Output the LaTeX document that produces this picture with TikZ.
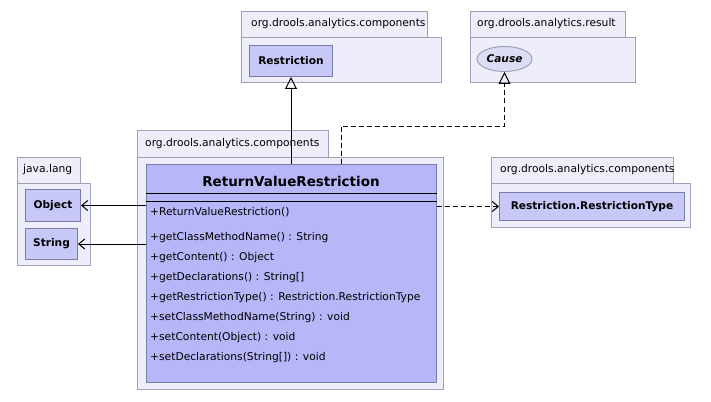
\documentclass[tikz,border=0pt]{standalone}
\usepackage{fontspec}
\setmainfont{DejaVu Sans}
\usetikzlibrary{arrows.meta,shapes.geometric}
\definecolor{pkgfill}{HTML}{EEEEFA}
\definecolor{pkgline}{HTML}{A0A0B8}
\definecolor{clsfill}{HTML}{B6B6F8}
\definecolor{clsline}{HTML}{7C7CA8}
\definecolor{smallfill}{HTML}{C8C8F8}
\definecolor{causefill}{HTML}{DCDCF4}
\tikzset{
  pkgbox/.style={draw=pkgline, fill=pkgfill, line width=1pt, rectangle, anchor=north west, inner sep=0pt},
  pkglabel/.style={anchor=west, font=\fontsize{10.7}{12}\selectfont, inner sep=0pt},
  smallcls/.style={draw=clsline, fill=smallfill, line width=1pt, rectangle, anchor=north west, inner sep=0pt},
  clslabel/.style={font=\bfseries\fontsize{10.6}{12}\selectfont, inner sep=0pt},
  opstext/.style={anchor=west, font=\fontsize{10.7}{12}\selectfont, inner sep=0pt},
  conn/.style={line width=1pt, draw=black},
  dsh/.style={dash pattern=on 5pt off 3pt},
  gen/.style={-{Triangle[open, length=12pt, width=12pt]}},
  dep/.style={-{Straight Barb[length=6pt, width=10pt]}}
}
\begin{document}
\begin{tikzpicture}[x=1pt, y=-1pt]
\useasboundingbox (0,0) rectangle (711,401);
% top middle package
\node[pkgbox, minimum width=200pt, minimum height=45pt] (p1b) at (241,37) {};
\node[pkgbox, minimum width=186pt, minimum height=26pt] (p1t) at (241,11) {};
\node[pkglabel] (p1l) at (251,24) {org.drools.analytics.components};
\node[smallcls, minimum width=83pt, minimum height=31pt] (restr) at (249,45) {};
\node[clslabel] (restrl) at (restr.center) {Restriction};
% top right package
\node[pkgbox, minimum width=165pt, minimum height=45pt] (p2b) at (470,37) {};
\node[pkgbox, minimum width=155pt, minimum height=26pt] (p2t) at (470,11) {};
\node[pkglabel] (p2l) at (477,24) {org.drools.analytics.result};
\node[ellipse, draw=pkgline, fill=causefill, line width=1pt, minimum width=55pt, minimum height=25pt, inner sep=0pt, font=\bfseries\itshape\fontsize{10.6}{12}\selectfont] (cause) at (504.5,59) {Cause};
% java.lang package
\node[pkgbox, minimum width=73pt, minimum height=82pt] (p3b) at (17,183) {};
\node[pkgbox, minimum width=63pt, minimum height=26pt] (p3t) at (17,157) {};
\node[pkglabel] (p3l) at (23,170) {java.lang};
\node[smallcls, minimum width=55pt, minimum height=32pt] (obj) at (25,189) {};
\node[clslabel] (objl) at (obj.center) {Object};
\node[smallcls, minimum width=52pt, minimum height=31pt] (str) at (25,228) {};
\node[clslabel] (strl) at (str.center) {String};
% right package
\node[pkgbox, minimum width=199pt, minimum height=44pt] (p4b) at (491,183) {};
\node[pkgbox, minimum width=182pt, minimum height=26pt] (p4t) at (491,157) {};
\node[pkglabel] (p4l) at (500,170) {org.drools.analytics.components};
\node[smallcls, minimum width=185pt, minimum height=28pt] (rtype) at (499,192) {};
\node[clslabel] (rtypel) at (rtype.center) {Restriction.RestrictionType};
% main package
\node[pkgbox, minimum width=306pt, minimum height=232pt] (p5b) at (137,157) {};
\node[pkgbox, minimum width=191pt, minimum height=27pt] (p5t) at (137,130) {};
\node[pkglabel] (p5l) at (145,143.5) {org.drools.analytics.components};
\node[draw=clsline, fill=clsfill, line width=1pt, rectangle, anchor=north west, inner sep=0pt, minimum width=290pt, minimum height=218pt] (cls) at (146,164) {};
\node[font=\bfseries\fontsize{13.5}{15}\selectfont, inner sep=0pt] (clst) at (291,181) {ReturnValueRestriction};
\coordinate (s1) at (146,193);
\coordinate (s2) at (146,201);
\draw[line width=1pt] (s1) -- (s1 -| cls.east);
\draw[line width=1pt] (s2) -- (s2 -| cls.east);
\node[opstext] (o0) at (150,212) {+ReturnValueRestriction()};
\node[opstext] (o1) at (150,238) {+getClassMethodName() : String};
\node[opstext] (o2) at (150,258) {+getContent() : Object};
\node[opstext] (o3) at (150,278) {+getDeclarations() : String[]};
\node[opstext] (o4) at (150,298) {+getRestrictionType() : Restriction.RestrictionType};
\node[opstext] (o5) at (150,318) {+setClassMethodName(String) : void};
\node[opstext] (o6) at (150,338) {+setContent(Object) : void};
\node[opstext] (o7) at (150,358) {+setDeclarations(String[]) : void};
% connectors
\draw[conn, gen] (cls.north -| restr.south) -- (restr.south);
\coordinate (c1) at (341,126);
\coordinate (c0) at (341,164);
\draw[conn, gen, dsh] (c0) -- (c1) -| (cause.south);
\draw[conn, dep] (cls.west |- obj.east) -- (obj.east);
\draw[conn, dep] (cls.west |- str.east) -- (str.east);
\draw[conn, dep, dsh] (cls.east |- rtype.west) -- (rtype.west);
\end{tikzpicture}
\end{document}
